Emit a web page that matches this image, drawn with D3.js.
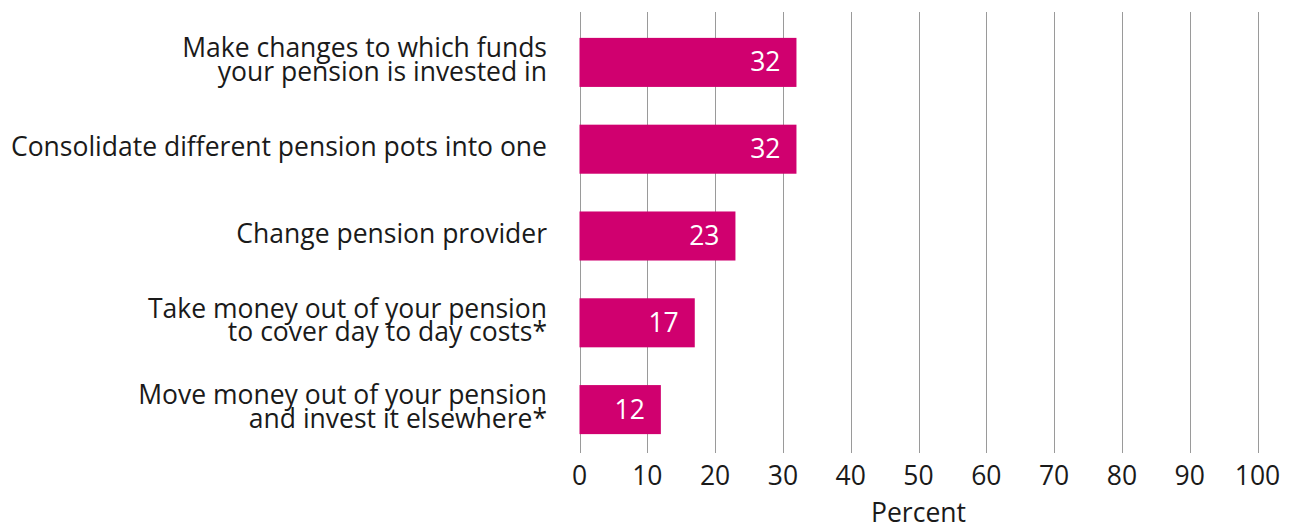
<!DOCTYPE html>
<html><head><meta charset="utf-8">
<script src="https://cdn.jsdelivr.net/npm/d3@7"></script>
<style>body{margin:0;background:#fff}svg{display:block}text{font-family:"Open Sans",sans-serif}</style>
</head><body>
<svg id="c" width="1297" height="527"></svg>
<script>
const categories = [
  ["Make changes to which funds", "your pension is invested in"],
  ["Consolidate different pension pots into one"],
  ["Change pension provider"],
  ["Take money out of your pension", "to cover day to day costs*"],
  ["Move money out of your pension", "and invest it elsewhere*"]
];
const values = [32, 32, 23, 17, 12];
const ticks = [0,10,20,30,40,50,60,70,80,90,100];
const axisTitle = "Percent";

const FS = 26.5;
const svg = d3.select("#c");
const x = d3.scaleLinear().domain([0,100]).range([579.5,1257.5]);
const y = d3.scaleBand().domain(d3.range(categories.length)).range([19,453]).paddingInner(0.435).paddingOuter(0.2175);

// gridlines
svg.append("g").selectAll("line").data(ticks).join("line")
  .attr("x1", d=>Math.round(x(d))+0.5).attr("x2", d=>Math.round(x(d))+0.5)
  .attr("y1", 12).attr("y2", 453)
  .attr("stroke", "#9a9a9a").attr("stroke-width", 1);

// bars
svg.append("g").selectAll("rect").data(values).join("rect")
  .attr("x", x(0)).attr("y", (d,i)=>y(i))
  .attr("width", d=>x(d)-x(0)).attr("height", y.bandwidth())
  .attr("fill", "#d0006f");

// value labels
svg.append("g").selectAll("text").data(values).join("text")
  .attr("x", d=>x(d)-16).attr("y", (d,i)=>y(i)+y.bandwidth()/2+9)
  .attr("text-anchor","end")
  .attr("fill","#fff").attr("font-size", FS).text(d=>d);

// category labels
const lh = 23.5;
const cl = svg.append("g").selectAll("text").data(categories).join("text")
  .attr("text-anchor","end").attr("fill","#1a1a1a").attr("font-size",FS);
cl.each(function(d,i){
  const t = d3.select(this);
  const c = y(i)+y.bandwidth()/2 + 6.5;
  const first = c - (d.length-1)*lh/2;
  d.forEach((line,k)=>{
    t.append("tspan").attr("x",547).attr("y", first + k*lh).text(line);
  });
});

// x tick labels
svg.append("g").selectAll("text").data(ticks).join("text")
  .attr("x", d=>x(d)).attr("y", 485)
  .attr("text-anchor","middle").attr("fill","#1a1a1a").attr("font-size",FS).text(d=>d);

svg.append("text").attr("x", (x(0)+x(100))/2).attr("y", 522)
  .attr("text-anchor","middle").attr("fill","#1a1a1a").attr("font-size",FS).text(axisTitle);
</script>
</body></html>
